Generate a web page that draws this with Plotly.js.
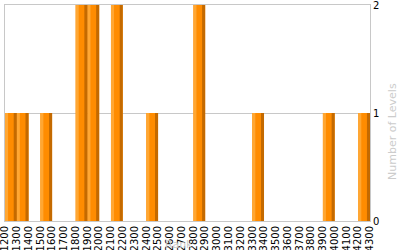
<!DOCTYPE html>
<html>
<head>
<meta charset="utf-8">
<script src="https://cdn.plot.ly/plotly-3.0.1.min.js"></script>
<style>html,body{margin:0;padding:0;background:#fff;}#chart{width:400px;height:250px;}</style>
</head>
<body>
<div id="chart"></div>
<script>
const rankBins = [1250, 1350, 1550, 1850, 1950, 2150, 2450, 2850, 3350, 3950, 4250];
const levelCounts = [1, 1, 1, 2, 2, 2, 1, 2, 1, 1, 1];
const xTickVals = [1200,1300,1400,1500,1600,1700,1800,1900,2000,2100,2200,2300,2400,2500,2600,2700,2800,2900,3000,3100,3200,3300,3400,3500,3600,3700,3800,3900,4000,4100,4200,4300];
const xTickText = xTickVals.map(v => String(v));
const yTickVals = [0, 1, 2];

const font = {family: 'DejaVu Sans, Verdana, sans-serif', size: 10, color: '#000'};
const titleFont = {family: 'DejaVu Sans, Verdana, sans-serif', size: 11, color: '#cccccc'};

const traces = [
  {type: 'bar', x: rankBins, y: levelCounts, width: 100, offset: -50,
   marker: {color: '#FF8C00', line: {width: 0}}, hoverinfo: 'skip'},
  {type: 'bar', x: rankBins, y: levelCounts, width: 26, offset: -50,
   marker: {color: '#FFA733', line: {width: 0}}, hoverinfo: 'skip'},
  {type: 'bar', x: rankBins, y: levelCounts, width: 26, offset: 24,
   marker: {color: '#C46A00', line: {width: 0}}, hoverinfo: 'skip'}
];

const layout = {
  width: 400, height: 250,
  margin: {l: 5, r: 30, t: 5, b: 29, pad: 0},
  paper_bgcolor: '#fff', plot_bgcolor: '#fff',
  barmode: 'overlay', showlegend: false, font: font,
  xaxis: {
    range: [1200, 4300], tickmode: 'array', tickvals: xTickVals, ticktext: xTickText,
    tickangle: -90, ticks: '', showgrid: false, zeroline: false,
    showline: true, linecolor: '#c8c8c8', linewidth: 1, mirror: true,
    tickfont: font, fixedrange: true, ticklabeloverflow: 'allow', automargin: false
  },
  yaxis: {
    range: [0, 2], side: 'right', tickmode: 'array', tickvals: yTickVals,
    ticks: '', showgrid: true, gridcolor: '#c8c8c8', gridwidth: 1, zeroline: false,
    showline: true, linecolor: '#c8c8c8', linewidth: 1, mirror: true,
    tickfont: font, fixedrange: true, ticklabeloverflow: 'allow', automargin: false
  },
  annotations: [
    {text: 'Rank', xref: 'paper', yref: 'paper', x: 0.478, y: -0.108, yanchor: 'middle', xanchor: 'center',
     showarrow: false, font: titleFont},
    {text: 'Number of Levels', xref: 'paper', yref: 'paper', x: 1.063, y: 0.417, xanchor: 'center', yanchor: 'middle',
     textangle: -90, showarrow: false, font: titleFont}
  ]
};

Plotly.newPlot('chart', traces, layout, {staticPlot: true, displayModeBar: false});
</script>
</body>
</html>
